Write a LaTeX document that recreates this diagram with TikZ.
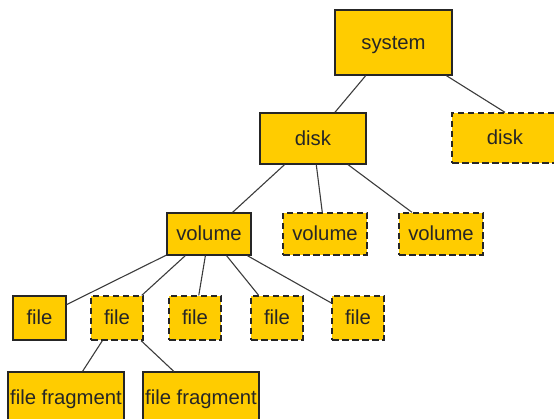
\documentclass[tikz,border=0pt]{standalone}
\usepackage{fontspec}
\setmainfont{Liberation Sans}
\definecolor{boxfill}{HTML}{FFCC00}
\definecolor{ink}{HTML}{262626}
\begin{document}
\begin{tikzpicture}[x=1pt,y=-1pt,
  box/.style={rectangle, draw=ink, fill=boxfill, line width=1.3pt,
    inner sep=0pt, text height=14pt, text depth=0pt, text=black!85,
    font=\fontsize{20.3}{22}\selectfont},
  ghost/.style={box, dash pattern=on 6.5pt off 3.5pt},
  link/.style={draw=ink!90, line width=1.1pt}]
\useasboundingbox (0,0) rectangle (554,419);
% top level
\node[box, minimum width=117pt, minimum height=65pt] (sys) at (393.5,42.5) {system};
% disks
\node[box, minimum width=106pt, minimum height=51pt] (d1) at (313,138.5) {disk};
\node[ghost, minimum width=106pt, minimum height=50pt] (d2) at (505,138) {disk};
% volumes
\node[box, minimum width=84pt, minimum height=42pt] (v1) at (209,234) {volume};
\node[ghost, minimum width=84pt, minimum height=42pt] (v2) at (325,234) {volume};
\node[ghost, minimum width=84pt, minimum height=42pt] (v3) at (441,234) {volume};
% files
\node[box, minimum width=53pt, minimum height=44pt] (f1) at (39.5,318) {file};
\node[ghost, minimum width=52pt, minimum height=44pt] (f2) at (117,318) {file};
\node[ghost, minimum width=52pt, minimum height=44pt] (f3) at (195,318) {file};
\node[ghost, minimum width=52pt, minimum height=44pt] (f4) at (277,318) {file};
\node[ghost, minimum width=52pt, minimum height=44pt] (f5) at (358,318) {file};
% fragments
\node[box, minimum width=116pt, minimum height=50pt] (ff1) at (66,397) {file fragment};
\node[box, minimum width=116pt, minimum height=50pt] (ff2) at (201,397) {file fragment};
% connectors
\path[link] (sys) -- (d1);
\path[link] (sys) -- (d2.north);
\path[link] (d1) -- (v1);
\path[link] (d1) -- (v2);
\path[link] (d1) -- (v3);
\path[link] (v1) -- (f1);
\path[link] (v1) -- (f2);
\path[link] (v1) -- (f3);
\path[link] (v1) -- (f4);
\path[link] (v1) -- (f5);
\path[link] (f2) -- (ff1);
\path[link] (f2) -- (ff2);
\end{tikzpicture}
\end{document}
